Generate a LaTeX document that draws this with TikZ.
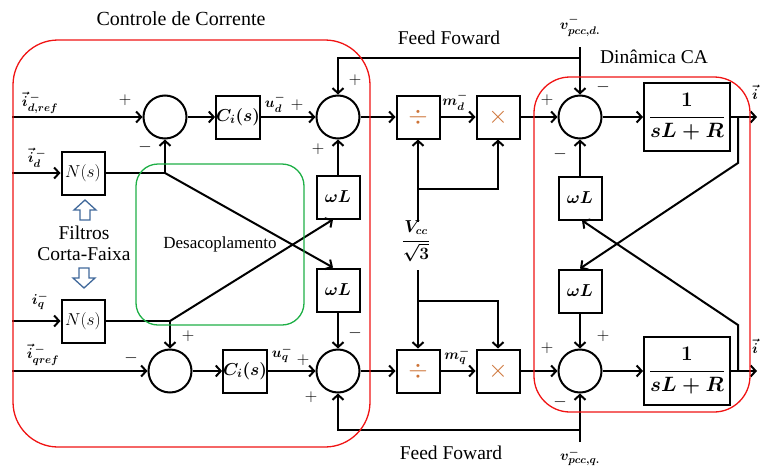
\documentclass[tikz,border=0pt]{standalone}
\usepackage{fontspec}
\setmainfont{Liberation Serif}
\usepackage{amsmath,bm}
\usetikzlibrary{arrows.meta}
\definecolor{redbox}{RGB}{240,20,20}
\definecolor{greenbox}{RGB}{30,175,70}
\definecolor{arrblue}{RGB}{65,105,155}
\definecolor{opcol}{RGB}{205,115,55}
\begin{document}
\begin{tikzpicture}[x=1pt,y=-1pt]
\tikzset{
 wire/.style={line width=2pt},
 sig/.style={wire,-{Straight Barb[length=5pt,width=11pt,line width=2pt]}},
 sumc/.style={circle,draw,line width=2pt,minimum size=43pt,inner sep=0pt},
 blk/.style={draw,line width=2pt,minimum width=43pt,minimum height=43pt,inner sep=0pt,font=\fontsize{17}{20}\selectfont},
 opblk/.style={blk,font=\fontsize{26}{30}\selectfont},
 bigblk/.style={blk,minimum width=86pt,minimum height=68pt,font=\fontsize{21}{25}\selectfont},
 sgn/.style={font=\fontsize{18}{21}\selectfont,inner sep=0pt},
 lbl/.style={font=\fontsize{15}{18}\selectfont,inner sep=0pt},
 ttl/.style={font=\fontsize{19.5}{23}\selectfont,inner sep=0pt},
 redframe/.style={draw=redbox,line width=1.3pt},
 hollow/.style={draw=arrblue,line width=1.3pt,fill=white},
}
\useasboundingbox (0,0) rectangle (760,466);

% blocks
\node[sumc] (d1) at (165,117) {};
\node[blk] (cid) at (238,117) {$\boldsymbol{C_i(s)}$};
\node[sumc] (d2) at (338,117) {};
\node[blk,font=\fontsize{19}{22}\selectfont] (nsd) at (83,173) {$N(s)$};
\node[blk] (wl1) at (338,197) {$\boldsymbol{\omega L}$};
\node[blk] (wl2) at (338,290) {$\boldsymbol{\omega L}$};
\node[blk,font=\fontsize{19}{22}\selectfont] (nsq) at (83,321) {$N(s)$};
\node[sumc] (q1) at (170,371) {};
\node[blk] (ciq) at (245,371) {$\boldsymbol{C_i(s)}$};
\node[sumc] (q2) at (338,371) {};

\node[opblk] (divd) at (418,117) {\color{opcol}$\div$};
\node[opblk] (muld) at (498,117) {\color{opcol}$\times$};
\node[sumc] (rd) at (580,117) {};
\node[bigblk] (Gd) at (687,117) {$\boldsymbol{\dfrac{1}{sL+R}}$};
\node[blk] (wlr1) at (580,198) {$\boldsymbol{\omega L}$};
\node[blk] (wlr2) at (580,291) {$\boldsymbol{\omega L}$};
\node[opblk] (divq) at (418,371) {\color{opcol}$\div$};
\node[opblk] (mulq) at (498,371) {\color{opcol}$\times$};
\node[sumc] (rq) at (580,371) {};
\node[bigblk] (Gq) at (687,371) {$\boldsymbol{\dfrac{1}{sL+R}}$};

\node[lbl,font=\fontsize{16}{19}\selectfont] (vcc) at (416,241) {$\boldsymbol{\dfrac{V_{cc}}{\sqrt{3}}}$};

% coordinates
\coordinate (inD) at (12,117);
\coordinate (inDd) at (12,173);
\coordinate (inQq) at (12,321);
\coordinate (inQ) at (12,371);
\coordinate (jd) at (165,173);
\coordinate (jq) at (170,321);
\coordinate (ffa) at (338,58);
\coordinate (vd) at (580,47);
\coordinate (vq) at (580,442);
\coordinate (ffb) at (338,430);
\coordinate (vcct) at (418,222);
\coordinate (vccb) at (418,270);
\coordinate (brd) at (418,189);
\coordinate (brq) at (418,301);
\coordinate (outd) at (757,117);
\coordinate (outq) at (757,371);
\coordinate (bd) at (738,117);
\coordinate (bd2) at (738,163);
\coordinate (bq) at (738,371);
\coordinate (bq2) at (738,325);

% connectors d
\draw[sig] (inD) -- (d1);
\draw[sig] (d1) -- (cid);
\draw[sig] (cid) -- (d2);
\draw[sig] (inDd) -- (nsd);
\draw[wire] (nsd.east) -- (jd);
\draw[sig] (jd) -- (d1.south);
\draw[sig] (jd) -- ([xshift=-5pt]wl2.north);
\draw[sig] (wl1.north) -- (d2.south);
% q
\draw[sig] (inQq) -- (nsq);
\draw[wire] (nsq.east) -- (jq);
\draw[sig] (jq) -- (q1.north);
\draw[sig] (jq) -- ([xshift=-5pt]wl1.south);
\draw[sig] (inQ) -- (q1);
\draw[sig] (q1) -- (ciq);
\draw[sig] (ciq) -- (q2);
\draw[sig] (wl2.south) -- (q2.north);
% feed forward
\draw[sig] (vd |- ffa) -- (ffa) -- (d2.north);
\draw[sig] (vd) -- (rd.north);
\draw[sig] (vq |- ffb) -- (ffb) -- (q2.south);
\draw[sig] (vq) -- (rq.south);
% forward path
\draw[sig] (d2) -- (divd);
\draw[sig] (divd) -- (muld);
\draw[sig] (muld) -- (rd);
\draw[sig] (rd) -- (Gd);
\draw[sig] (Gd.east) -- (outd);
\draw[sig] (q2) -- (divq);
\draw[sig] (divq) -- (mulq);
\draw[sig] (mulq) -- (rq);
\draw[sig] (rq) -- (Gq);
\draw[sig] (Gq.east) -- (outq);
% Vcc
\draw[sig] (vcct) -- (divd.south);
\draw[sig] (brd) -- (brd -| muld) -- (muld.south);
\draw[sig] (vccb) -- (divq.north);
\draw[sig] (brq) -- (brq -| mulq) -- (mulq.north);
% AC dynamics
\draw[sig] (bd) -- (bd2) -- (wlr2.north);
\draw[sig] (bq) -- (bq2) -- ([xshift=2pt]wlr1.south);
\draw[sig] (wlr1.north) -- (rd.south);
\draw[sig] (wlr2.south) -- (rq.north);

% frames
\draw[redframe,rounded corners=45pt] (13,40) rectangle (370,447);
\draw[draw=greenbox,line width=1.3pt,rounded corners=22pt] (136,164) rectangle (304,325);
\draw[redframe,rounded corners=36pt] (534,77) rectangle (750,412);

% hollow arrows
\draw[hollow] (85,200) -- (96,210) -- (90,210) -- (90,220) -- (80,220) -- (80,210) -- (74,210) -- cycle;
\draw[hollow] (84,288) -- (95,278) -- (89,278) -- (89,268) -- (79,268) -- (79,278) -- (73,278) -- cycle;

% signs
\node[sgn] (s1) at (125,100) {$+$};
\node[sgn] (s2) at (145,147) {$-$};
\node[sgn] (s3) at (297,105) {$+$};
\node[sgn] (s4) at (355,80) {$+$};
\node[sgn] (s5) at (318,149) {$+$};
\node[sgn] (s6) at (188,336) {$+$};
\node[sgn] (s7) at (131,358) {$-$};
\node[sgn] (s8) at (303,360) {$+$};
\node[sgn] (s9) at (355,333) {$-$};
\node[sgn] (s10) at (311,397) {$+$};
\node[sgn] (s11) at (547,100) {$+$};
\node[sgn] (s12) at (603,87) {$-$};
\node[sgn] (s13) at (560,154) {$-$};
\node[sgn] (s14) at (547,348) {$+$};
\node[sgn] (s15) at (603,336) {$+$};
\node[sgn] (s16) at (560,402) {$-$};

% signal labels
\node[lbl] (lidref) at (40,103) {$\boldsymbol{\vec{i}^{\,-}_{d,ref}}$};
\node[lbl] (lid) at (37,158) {$\boldsymbol{\vec{i}^{\,-}_{d}}$};
\node[lbl] (liq) at (40,301) {$\boldsymbol{i^{-}_{q}}$};
\node[lbl] (liqref) at (43,355) {$\boldsymbol{\vec{i}^{\,-}_{qref}}$};
\node[lbl] (lud) at (275,103) {$\boldsymbol{u^{-}_{d}}$};
\node[lbl] (luq) at (282,354) {$\boldsymbol{u^{-}_{q}}$};
\node[lbl] (lmd) at (455,101) {$\boldsymbol{m^{-}_{d}}$};
\node[lbl] (lmq) at (457,356) {$\boldsymbol{m^{-}_{q}}$};
\node[lbl] (lvd) at (580,26) {$\boldsymbol{v^{-}_{pcc,d.}}$};
\node[lbl] (lvq) at (580,457) {$\boldsymbol{v^{-}_{pcc,q.}}$};
\node[lbl,anchor=west] (lod) at (752,92) {$\boldsymbol{\vec{i}}$};
\node[lbl,anchor=west] (loq) at (752,346) {$\boldsymbol{\vec{i}}$};

% titles
\node[ttl,font=\fontsize{20}{24}\selectfont] (t1) at (181,19) {Controle de Corrente};
\node[ttl] (t2) at (449,38) {Feed Foward};
\node[ttl] (t3) at (654,57) {Dinâmica CA};
\node[ttl] (t4) at (451,453) {Feed Foward};
\node[ttl,font=\fontsize{17}{20}\selectfont] (t5) at (220,244) {Desacoplamento};
\node[ttl] (t6) at (84,233) {Filtros};
\node[ttl] (t7) at (84,254) {Corta-Faixa};
\end{tikzpicture}
\end{document}
